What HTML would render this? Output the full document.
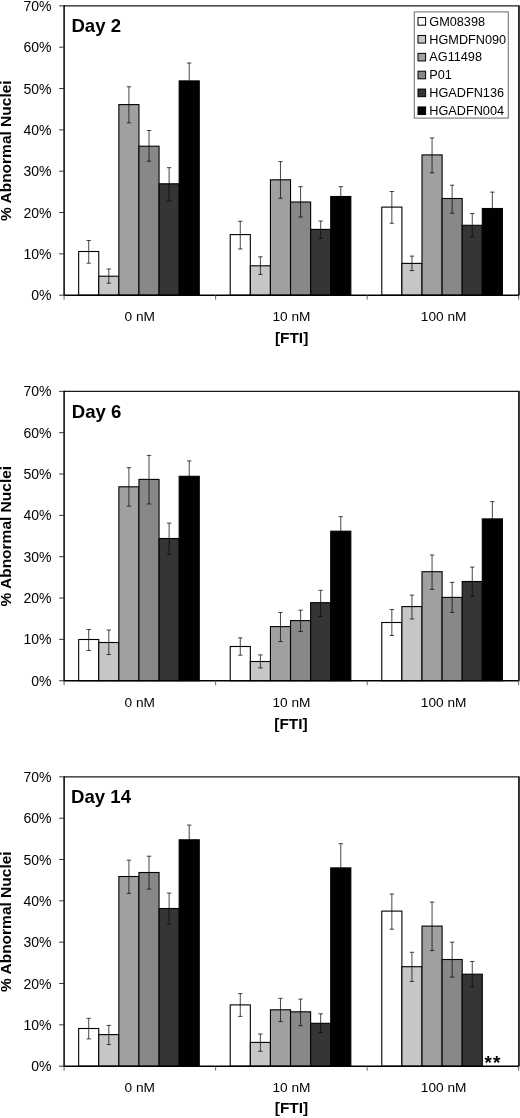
<!DOCTYPE html>
<html lang="en"><head><meta charset="utf-8"><title>% Abnormal Nuclei vs [FTI]</title>
<style>html,body{margin:0;padding:0;background:#fff}body{width:520px;height:1118px;overflow:hidden}svg{display:block;will-change:transform;opacity:0.999;filter:blur(0.4px)}text{font-family:"Liberation Sans",Arial,sans-serif;fill:#000}</style>
</head><body>
<svg width="520" height="1118" viewBox="0 0 520 1118">
<rect width="520" height="1118" fill="#fff"/>
<g transform="translate(0,0)">
<rect x="78.66" y="251.50" width="20.10" height="43.70" fill="#ffffff" stroke="#000" stroke-width="1.1"/>
<rect x="98.76" y="276.20" width="20.10" height="19.00" fill="#c6c6c6" stroke="#000" stroke-width="1.1"/>
<rect x="118.86" y="104.60" width="20.10" height="190.60" fill="#a0a0a0" stroke="#000" stroke-width="1.1"/>
<rect x="138.96" y="146.20" width="20.10" height="149.00" fill="#888888" stroke="#000" stroke-width="1.1"/>
<rect x="159.06" y="183.80" width="20.10" height="111.40" fill="#353535" stroke="#000" stroke-width="1.1"/>
<rect x="179.16" y="80.90" width="20.10" height="214.30" fill="#000000" stroke="#000" stroke-width="1.1"/>
<path d="M88.71 240.50V263.20M86.51 240.50h4.4M86.51 263.20h4.4" stroke="#0a0a0a" stroke-width="0.75" fill="none"/>
<path d="M108.81 269.00V283.20M106.61 269.00h4.4M106.61 283.20h4.4" stroke="#0a0a0a" stroke-width="0.75" fill="none"/>
<path d="M128.91 86.80V122.80M126.71 86.80h4.4M126.71 122.80h4.4" stroke="#0a0a0a" stroke-width="0.75" fill="none"/>
<path d="M149.01 130.50V161.20M146.81 130.50h4.4M146.81 161.20h4.4" stroke="#0a0a0a" stroke-width="0.75" fill="none"/>
<path d="M169.11 167.70V200.80M166.91 167.70h4.4M166.91 200.80h4.4" stroke="#0a0a0a" stroke-width="0.75" fill="none"/>
<path d="M189.21 63.00V80.90M187.01 63.00h4.4" stroke="#0a0a0a" stroke-width="0.75" fill="none"/>
<rect x="230.23" y="234.60" width="20.10" height="60.60" fill="#ffffff" stroke="#000" stroke-width="1.1"/>
<rect x="250.33" y="265.80" width="20.10" height="29.40" fill="#c6c6c6" stroke="#000" stroke-width="1.1"/>
<rect x="270.43" y="179.80" width="20.10" height="115.40" fill="#a0a0a0" stroke="#000" stroke-width="1.1"/>
<rect x="290.53" y="202.00" width="20.10" height="93.20" fill="#888888" stroke="#000" stroke-width="1.1"/>
<rect x="310.63" y="229.40" width="20.10" height="65.80" fill="#353535" stroke="#000" stroke-width="1.1"/>
<rect x="330.73" y="196.50" width="20.10" height="98.70" fill="#000000" stroke="#000" stroke-width="1.1"/>
<path d="M240.28 221.30V249.00M238.08 221.30h4.4M238.08 249.00h4.4" stroke="#0a0a0a" stroke-width="0.75" fill="none"/>
<path d="M260.38 256.80V274.40M258.18 256.80h4.4M258.18 274.40h4.4" stroke="#0a0a0a" stroke-width="0.75" fill="none"/>
<path d="M280.48 161.60V198.30M278.28 161.60h4.4M278.28 198.30h4.4" stroke="#0a0a0a" stroke-width="0.75" fill="none"/>
<path d="M300.58 186.70V217.00M298.38 186.70h4.4M298.38 217.00h4.4" stroke="#0a0a0a" stroke-width="0.75" fill="none"/>
<path d="M320.68 221.00V238.40M318.48 221.00h4.4M318.48 238.40h4.4" stroke="#0a0a0a" stroke-width="0.75" fill="none"/>
<path d="M340.78 186.70V196.50M338.58 186.70h4.4" stroke="#0a0a0a" stroke-width="0.75" fill="none"/>
<rect x="381.80" y="207.10" width="20.10" height="88.10" fill="#ffffff" stroke="#000" stroke-width="1.1"/>
<rect x="401.90" y="263.40" width="20.10" height="31.80" fill="#c6c6c6" stroke="#000" stroke-width="1.1"/>
<rect x="422.00" y="154.90" width="20.10" height="140.30" fill="#a0a0a0" stroke="#000" stroke-width="1.1"/>
<rect x="442.10" y="198.50" width="20.10" height="96.70" fill="#888888" stroke="#000" stroke-width="1.1"/>
<rect x="462.20" y="225.30" width="20.10" height="69.90" fill="#353535" stroke="#000" stroke-width="1.1"/>
<rect x="482.30" y="208.50" width="20.10" height="86.70" fill="#000000" stroke="#000" stroke-width="1.1"/>
<path d="M391.85 191.50V223.30M389.65 191.50h4.4M389.65 223.30h4.4" stroke="#0a0a0a" stroke-width="0.75" fill="none"/>
<path d="M411.95 256.10V270.60M409.75 256.10h4.4M409.75 270.60h4.4" stroke="#0a0a0a" stroke-width="0.75" fill="none"/>
<path d="M432.05 137.90V172.80M429.85 137.90h4.4M429.85 172.80h4.4" stroke="#0a0a0a" stroke-width="0.75" fill="none"/>
<path d="M452.15 185.20V213.20M449.95 185.20h4.4M449.95 213.20h4.4" stroke="#0a0a0a" stroke-width="0.75" fill="none"/>
<path d="M472.25 213.50V236.80M470.05 213.50h4.4M470.05 236.80h4.4" stroke="#0a0a0a" stroke-width="0.75" fill="none"/>
<path d="M492.35 192.10V208.50M490.15 192.10h4.4" stroke="#0a0a0a" stroke-width="0.75" fill="none"/>
<path d="M64.1 5.85H519.6" stroke="#1a1a1a" stroke-width="1.4" fill="none"/>
<path d="M518.95 5.85V295.2" stroke="#2a2a2a" stroke-width="1.9" fill="none"/>
<path d="M64.1 5.35V295.2H519.2" stroke="#000" stroke-width="1.5" fill="none"/>
<path d="M59.099999999999994 295.20H64.1" stroke="#222" stroke-width="0.9"/>
<text x="51.5" y="300.20" font-size="14" text-anchor="end">0%</text>
<path d="M59.099999999999994 253.86H64.1" stroke="#222" stroke-width="0.9"/>
<text x="51.5" y="258.86" font-size="14" text-anchor="end">10%</text>
<path d="M59.099999999999994 212.53H64.1" stroke="#222" stroke-width="0.9"/>
<text x="51.5" y="217.53" font-size="14" text-anchor="end">20%</text>
<path d="M59.099999999999994 171.19H64.1" stroke="#222" stroke-width="0.9"/>
<text x="51.5" y="176.19" font-size="14" text-anchor="end">30%</text>
<path d="M59.099999999999994 129.86H64.1" stroke="#222" stroke-width="0.9"/>
<text x="51.5" y="134.86" font-size="14" text-anchor="end">40%</text>
<path d="M59.099999999999994 88.52H64.1" stroke="#222" stroke-width="0.9"/>
<text x="51.5" y="93.52" font-size="14" text-anchor="end">50%</text>
<path d="M59.099999999999994 47.19H64.1" stroke="#222" stroke-width="0.9"/>
<text x="51.5" y="52.19" font-size="14" text-anchor="end">60%</text>
<path d="M59.099999999999994 5.85H64.1" stroke="#222" stroke-width="0.9"/>
<text x="51.5" y="10.85" font-size="14" text-anchor="end">70%</text>
<path d="M64.10 295.2V299.7" stroke="#555" stroke-width="0.9"/>
<path d="M215.63 295.2V299.7" stroke="#555" stroke-width="0.9"/>
<path d="M367.17 295.2V299.7" stroke="#555" stroke-width="0.9"/>
<path d="M518.70 295.2V299.7" stroke="#555" stroke-width="0.9"/>
<text x="139.7" y="321.4" font-size="13.7" text-anchor="middle">0 nM</text>
<text x="291.5" y="321.4" font-size="13.7" text-anchor="middle">10 nM</text>
<text x="443.6" y="321.4" font-size="13.7" text-anchor="middle">100 nM</text>
<text x="291.6" y="343.0" font-size="15.4" font-weight="bold" text-anchor="middle">[FTI]</text>
<text transform="translate(11.0,150.7) rotate(-90)" font-size="15.5" font-weight="bold" text-anchor="middle">% Abnormal Nuclei</text>
<text x="71.4" y="31.8" font-size="18.6" font-weight="bold">Day 2</text>
<rect x="414.3" y="11.9" width="94" height="106.2" fill="#fff" stroke="#777" stroke-width="1.1"/>
<rect x="418.0" y="17.60" width="7.6" height="7.6" fill="#ffffff" stroke="#000" stroke-width="1"/>
<text x="429.3" y="25.70" font-size="12.7">GM08398</text>
<rect x="418.0" y="35.47" width="7.6" height="7.6" fill="#c6c6c6" stroke="#000" stroke-width="1"/>
<text x="429.3" y="43.57" font-size="12.7">HGMDFN090</text>
<rect x="418.0" y="53.34" width="7.6" height="7.6" fill="#a0a0a0" stroke="#000" stroke-width="1"/>
<text x="429.3" y="61.44" font-size="12.7">AG11498</text>
<rect x="418.0" y="71.21" width="7.6" height="7.6" fill="#888888" stroke="#000" stroke-width="1"/>
<text x="429.3" y="79.31" font-size="12.7">P01</text>
<rect x="418.0" y="89.08" width="7.6" height="7.6" fill="#353535" stroke="#000" stroke-width="1"/>
<text x="429.3" y="97.18" font-size="12.7">HGADFN136</text>
<rect x="418.0" y="106.95" width="7.6" height="7.6" fill="#000000" stroke="#000" stroke-width="1"/>
<text x="429.3" y="115.05" font-size="12.7">HGADFN004</text>
</g>
<g transform="translate(0,385.5)">
<rect x="78.66" y="254.00" width="20.10" height="41.20" fill="#ffffff" stroke="#000" stroke-width="1.1"/>
<rect x="98.76" y="257.00" width="20.10" height="38.20" fill="#c6c6c6" stroke="#000" stroke-width="1.1"/>
<rect x="118.86" y="101.30" width="20.10" height="193.90" fill="#a0a0a0" stroke="#000" stroke-width="1.1"/>
<rect x="138.96" y="93.90" width="20.10" height="201.30" fill="#888888" stroke="#000" stroke-width="1.1"/>
<rect x="159.06" y="153.00" width="20.10" height="142.20" fill="#353535" stroke="#000" stroke-width="1.1"/>
<rect x="179.16" y="90.80" width="20.10" height="204.40" fill="#000000" stroke="#000" stroke-width="1.1"/>
<path d="M88.71 244.00V265.00M86.51 244.00h4.4M86.51 265.00h4.4" stroke="#0a0a0a" stroke-width="0.75" fill="none"/>
<path d="M108.81 244.50V269.00M106.61 244.50h4.4M106.61 269.00h4.4" stroke="#0a0a0a" stroke-width="0.75" fill="none"/>
<path d="M128.91 82.20V120.70M126.71 82.20h4.4M126.71 120.70h4.4" stroke="#0a0a0a" stroke-width="0.75" fill="none"/>
<path d="M149.01 69.90V118.50M146.81 69.90h4.4M146.81 118.50h4.4" stroke="#0a0a0a" stroke-width="0.75" fill="none"/>
<path d="M169.11 137.60V168.70M166.91 137.60h4.4M166.91 168.70h4.4" stroke="#0a0a0a" stroke-width="0.75" fill="none"/>
<path d="M189.21 75.40V90.80M187.01 75.40h4.4" stroke="#0a0a0a" stroke-width="0.75" fill="none"/>
<rect x="230.23" y="261.00" width="20.10" height="34.20" fill="#ffffff" stroke="#000" stroke-width="1.1"/>
<rect x="250.33" y="276.00" width="20.10" height="19.20" fill="#c6c6c6" stroke="#000" stroke-width="1.1"/>
<rect x="270.43" y="241.10" width="20.10" height="54.10" fill="#a0a0a0" stroke="#000" stroke-width="1.1"/>
<rect x="290.53" y="235.10" width="20.10" height="60.10" fill="#888888" stroke="#000" stroke-width="1.1"/>
<rect x="310.63" y="217.20" width="20.10" height="78.00" fill="#353535" stroke="#000" stroke-width="1.1"/>
<rect x="330.73" y="145.70" width="20.10" height="149.50" fill="#000000" stroke="#000" stroke-width="1.1"/>
<path d="M240.28 252.40V269.70M238.08 252.40h4.4M238.08 269.70h4.4" stroke="#0a0a0a" stroke-width="0.75" fill="none"/>
<path d="M260.38 269.40V282.40M258.18 269.40h4.4M258.18 282.40h4.4" stroke="#0a0a0a" stroke-width="0.75" fill="none"/>
<path d="M280.48 227.00V256.10M278.28 227.00h4.4M278.28 256.10h4.4" stroke="#0a0a0a" stroke-width="0.75" fill="none"/>
<path d="M300.58 224.70V246.00M298.38 224.70h4.4M298.38 246.00h4.4" stroke="#0a0a0a" stroke-width="0.75" fill="none"/>
<path d="M320.68 204.80V231.00M318.48 204.80h4.4M318.48 231.00h4.4" stroke="#0a0a0a" stroke-width="0.75" fill="none"/>
<path d="M340.78 131.20V145.70M338.58 131.20h4.4" stroke="#0a0a0a" stroke-width="0.75" fill="none"/>
<rect x="381.80" y="237.00" width="20.10" height="58.20" fill="#ffffff" stroke="#000" stroke-width="1.1"/>
<rect x="401.90" y="221.10" width="20.10" height="74.10" fill="#c6c6c6" stroke="#000" stroke-width="1.1"/>
<rect x="422.00" y="186.20" width="20.10" height="109.00" fill="#a0a0a0" stroke="#000" stroke-width="1.1"/>
<rect x="442.10" y="211.90" width="20.10" height="83.30" fill="#888888" stroke="#000" stroke-width="1.1"/>
<rect x="462.20" y="196.00" width="20.10" height="99.20" fill="#353535" stroke="#000" stroke-width="1.1"/>
<rect x="482.30" y="133.40" width="20.10" height="161.80" fill="#000000" stroke="#000" stroke-width="1.1"/>
<path d="M391.85 224.00V250.00M389.65 224.00h4.4M389.65 250.00h4.4" stroke="#0a0a0a" stroke-width="0.75" fill="none"/>
<path d="M411.95 209.60V233.50M409.75 209.60h4.4M409.75 233.50h4.4" stroke="#0a0a0a" stroke-width="0.75" fill="none"/>
<path d="M432.05 169.50V203.80M429.85 169.50h4.4M429.85 203.80h4.4" stroke="#0a0a0a" stroke-width="0.75" fill="none"/>
<path d="M452.15 196.90V226.90M449.95 196.90h4.4M449.95 226.90h4.4" stroke="#0a0a0a" stroke-width="0.75" fill="none"/>
<path d="M472.25 181.60V211.00M470.05 181.60h4.4M470.05 211.00h4.4" stroke="#0a0a0a" stroke-width="0.75" fill="none"/>
<path d="M492.35 116.10V133.40M490.15 116.10h4.4" stroke="#0a0a0a" stroke-width="0.75" fill="none"/>
<path d="M64.1 5.85H519.6" stroke="#1a1a1a" stroke-width="1.4" fill="none"/>
<path d="M518.95 5.85V295.2" stroke="#2a2a2a" stroke-width="1.9" fill="none"/>
<path d="M64.1 5.35V295.2H519.2" stroke="#000" stroke-width="1.5" fill="none"/>
<path d="M59.099999999999994 295.20H64.1" stroke="#222" stroke-width="0.9"/>
<text x="51.5" y="300.20" font-size="14" text-anchor="end">0%</text>
<path d="M59.099999999999994 253.86H64.1" stroke="#222" stroke-width="0.9"/>
<text x="51.5" y="258.86" font-size="14" text-anchor="end">10%</text>
<path d="M59.099999999999994 212.53H64.1" stroke="#222" stroke-width="0.9"/>
<text x="51.5" y="217.53" font-size="14" text-anchor="end">20%</text>
<path d="M59.099999999999994 171.19H64.1" stroke="#222" stroke-width="0.9"/>
<text x="51.5" y="176.19" font-size="14" text-anchor="end">30%</text>
<path d="M59.099999999999994 129.86H64.1" stroke="#222" stroke-width="0.9"/>
<text x="51.5" y="134.86" font-size="14" text-anchor="end">40%</text>
<path d="M59.099999999999994 88.52H64.1" stroke="#222" stroke-width="0.9"/>
<text x="51.5" y="93.52" font-size="14" text-anchor="end">50%</text>
<path d="M59.099999999999994 47.19H64.1" stroke="#222" stroke-width="0.9"/>
<text x="51.5" y="52.19" font-size="14" text-anchor="end">60%</text>
<path d="M59.099999999999994 5.85H64.1" stroke="#222" stroke-width="0.9"/>
<text x="51.5" y="10.85" font-size="14" text-anchor="end">70%</text>
<path d="M64.10 295.2V299.7" stroke="#555" stroke-width="0.9"/>
<path d="M215.63 295.2V299.7" stroke="#555" stroke-width="0.9"/>
<path d="M367.17 295.2V299.7" stroke="#555" stroke-width="0.9"/>
<path d="M518.70 295.2V299.7" stroke="#555" stroke-width="0.9"/>
<text x="139.7" y="321.5" font-size="13.7" text-anchor="middle">0 nM</text>
<text x="291.5" y="321.5" font-size="13.7" text-anchor="middle">10 nM</text>
<text x="443.6" y="321.5" font-size="13.7" text-anchor="middle">100 nM</text>
<text x="291.0" y="343.0" font-size="15.4" font-weight="bold" text-anchor="middle">[FTI]</text>
<text transform="translate(11.0,150.7) rotate(-90)" font-size="15.5" font-weight="bold" text-anchor="middle">% Abnormal Nuclei</text>
<text x="71.8" y="32.65" font-size="18.6" font-weight="bold">Day 6</text>
</g>
<g transform="translate(0,771)">
<rect x="78.66" y="257.50" width="20.10" height="37.70" fill="#ffffff" stroke="#000" stroke-width="1.1"/>
<rect x="98.76" y="263.60" width="20.10" height="31.60" fill="#c6c6c6" stroke="#000" stroke-width="1.1"/>
<rect x="118.86" y="105.50" width="20.10" height="189.70" fill="#a0a0a0" stroke="#000" stroke-width="1.1"/>
<rect x="138.96" y="101.50" width="20.10" height="193.70" fill="#888888" stroke="#000" stroke-width="1.1"/>
<rect x="159.06" y="137.50" width="20.10" height="157.70" fill="#353535" stroke="#000" stroke-width="1.1"/>
<rect x="179.16" y="68.80" width="20.10" height="226.40" fill="#000000" stroke="#000" stroke-width="1.1"/>
<path d="M88.71 247.30V267.90M86.51 247.30h4.4M86.51 267.90h4.4" stroke="#0a0a0a" stroke-width="0.75" fill="none"/>
<path d="M108.81 254.40V273.50M106.61 254.40h4.4M106.61 273.50h4.4" stroke="#0a0a0a" stroke-width="0.75" fill="none"/>
<path d="M128.91 89.20V122.40M126.71 89.20h4.4M126.71 122.40h4.4" stroke="#0a0a0a" stroke-width="0.75" fill="none"/>
<path d="M149.01 85.20V118.10M146.81 85.20h4.4M146.81 118.10h4.4" stroke="#0a0a0a" stroke-width="0.75" fill="none"/>
<path d="M169.11 122.10V153.20M166.91 122.10h4.4M166.91 153.20h4.4" stroke="#0a0a0a" stroke-width="0.75" fill="none"/>
<path d="M189.21 54.10V68.80M187.01 54.10h4.4" stroke="#0a0a0a" stroke-width="0.75" fill="none"/>
<rect x="230.23" y="233.90" width="20.10" height="61.30" fill="#ffffff" stroke="#000" stroke-width="1.1"/>
<rect x="250.33" y="271.40" width="20.10" height="23.80" fill="#c6c6c6" stroke="#000" stroke-width="1.1"/>
<rect x="270.43" y="238.80" width="20.10" height="56.40" fill="#a0a0a0" stroke="#000" stroke-width="1.1"/>
<rect x="290.53" y="240.80" width="20.10" height="54.40" fill="#888888" stroke="#000" stroke-width="1.1"/>
<rect x="310.63" y="252.30" width="20.10" height="42.90" fill="#353535" stroke="#000" stroke-width="1.1"/>
<rect x="330.73" y="96.90" width="20.10" height="198.30" fill="#000000" stroke="#000" stroke-width="1.1"/>
<path d="M240.28 222.60V245.40M238.08 222.60h4.4M238.08 245.40h4.4" stroke="#0a0a0a" stroke-width="0.75" fill="none"/>
<path d="M260.38 263.00V280.30M258.18 263.00h4.4M258.18 280.30h4.4" stroke="#0a0a0a" stroke-width="0.75" fill="none"/>
<path d="M280.48 227.30V250.60M278.28 227.30h4.4M278.28 250.60h4.4" stroke="#0a0a0a" stroke-width="0.75" fill="none"/>
<path d="M300.58 228.10V254.70M298.38 228.10h4.4M298.38 254.70h4.4" stroke="#0a0a0a" stroke-width="0.75" fill="none"/>
<path d="M320.68 242.80V261.60M318.48 242.80h4.4M318.48 261.60h4.4" stroke="#0a0a0a" stroke-width="0.75" fill="none"/>
<path d="M340.78 72.70V96.90M338.58 72.70h4.4" stroke="#0a0a0a" stroke-width="0.75" fill="none"/>
<rect x="381.80" y="140.10" width="20.10" height="155.10" fill="#ffffff" stroke="#000" stroke-width="1.1"/>
<rect x="401.90" y="195.70" width="20.10" height="99.50" fill="#c6c6c6" stroke="#000" stroke-width="1.1"/>
<rect x="422.00" y="155.10" width="20.10" height="140.10" fill="#a0a0a0" stroke="#000" stroke-width="1.1"/>
<rect x="442.10" y="188.50" width="20.10" height="106.70" fill="#888888" stroke="#000" stroke-width="1.1"/>
<rect x="462.20" y="203.20" width="20.10" height="92.00" fill="#353535" stroke="#000" stroke-width="1.1"/>
<path d="M391.85 123.00V158.20M389.65 123.00h4.4M389.65 158.20h4.4" stroke="#0a0a0a" stroke-width="0.75" fill="none"/>
<path d="M411.95 181.30V210.40M409.75 181.30h4.4M409.75 210.40h4.4" stroke="#0a0a0a" stroke-width="0.75" fill="none"/>
<path d="M432.05 131.10V179.60M429.85 131.10h4.4M429.85 179.60h4.4" stroke="#0a0a0a" stroke-width="0.75" fill="none"/>
<path d="M452.15 171.20V206.10M449.95 171.20h4.4M449.95 206.10h4.4" stroke="#0a0a0a" stroke-width="0.75" fill="none"/>
<path d="M472.25 190.50V215.90M470.05 190.50h4.4M470.05 215.90h4.4" stroke="#0a0a0a" stroke-width="0.75" fill="none"/>
<path d="M64.1 5.85H519.6" stroke="#1a1a1a" stroke-width="1.4" fill="none"/>
<path d="M518.95 5.85V295.2" stroke="#2a2a2a" stroke-width="1.9" fill="none"/>
<path d="M64.1 5.35V295.2H519.2" stroke="#000" stroke-width="1.5" fill="none"/>
<path d="M59.099999999999994 295.20H64.1" stroke="#222" stroke-width="0.9"/>
<text x="51.5" y="300.20" font-size="14" text-anchor="end">0%</text>
<path d="M59.099999999999994 253.86H64.1" stroke="#222" stroke-width="0.9"/>
<text x="51.5" y="258.86" font-size="14" text-anchor="end">10%</text>
<path d="M59.099999999999994 212.53H64.1" stroke="#222" stroke-width="0.9"/>
<text x="51.5" y="217.53" font-size="14" text-anchor="end">20%</text>
<path d="M59.099999999999994 171.19H64.1" stroke="#222" stroke-width="0.9"/>
<text x="51.5" y="176.19" font-size="14" text-anchor="end">30%</text>
<path d="M59.099999999999994 129.86H64.1" stroke="#222" stroke-width="0.9"/>
<text x="51.5" y="134.86" font-size="14" text-anchor="end">40%</text>
<path d="M59.099999999999994 88.52H64.1" stroke="#222" stroke-width="0.9"/>
<text x="51.5" y="93.52" font-size="14" text-anchor="end">50%</text>
<path d="M59.099999999999994 47.19H64.1" stroke="#222" stroke-width="0.9"/>
<text x="51.5" y="52.19" font-size="14" text-anchor="end">60%</text>
<path d="M59.099999999999994 5.85H64.1" stroke="#222" stroke-width="0.9"/>
<text x="51.5" y="10.85" font-size="14" text-anchor="end">70%</text>
<path d="M64.10 295.2V299.7" stroke="#555" stroke-width="0.9"/>
<path d="M215.63 295.2V299.7" stroke="#555" stroke-width="0.9"/>
<path d="M367.17 295.2V299.7" stroke="#555" stroke-width="0.9"/>
<path d="M518.70 295.2V299.7" stroke="#555" stroke-width="0.9"/>
<text x="139.7" y="320.7" font-size="13.7" text-anchor="middle">0 nM</text>
<text x="291.5" y="320.7" font-size="13.7" text-anchor="middle">10 nM</text>
<text x="443.6" y="320.7" font-size="13.7" text-anchor="middle">100 nM</text>
<text x="291.5" y="342.3" font-size="15.4" font-weight="bold" text-anchor="middle">[FTI]</text>
<text transform="translate(11.0,150.7) rotate(-90)" font-size="15.5" font-weight="bold" text-anchor="middle">% Abnormal Nuclei</text>
<text x="71.1" y="31.95" font-size="18.6" font-weight="bold">Day 14</text>
<text x="484.6" y="1068.9" transform="translate(0,-771)" font-size="19" letter-spacing="0.9" font-weight="bold">**</text>
</g>
</svg></body></html>
